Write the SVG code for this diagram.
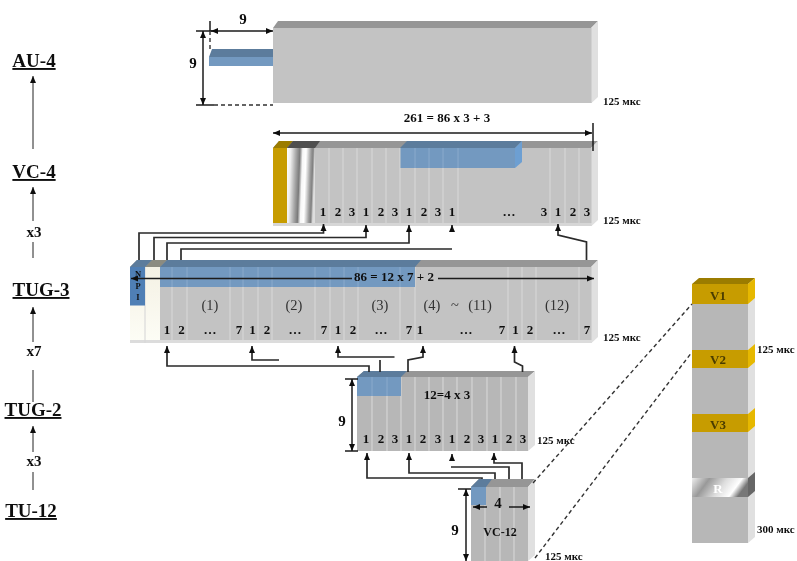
<svg xmlns="http://www.w3.org/2000/svg" width="797" height="561" viewBox="0 0 797 561">
<style>
text{font-family:"Liberation Serif","Times New Roman",serif;font-weight:bold;fill:#111;text-anchor:middle}
.lab{font-size:19px;text-decoration:underline}
.x{font-size:15px}
.n{font-size:13px}
.p text{font-size:14.5px;font-weight:normal;fill:#333}
.t{font-size:13px}
.nine{font-size:15px}
.m{font-size:11px;text-anchor:start}
.front{fill:#c3c3c3}.front2{fill:#b7b7b7}
.top{fill:#969696}.side{fill:#e0e0e0}.strip{fill:#d6d6d6}
.bf{fill:#7399c0}.bt{fill:#5b7c9c}.bs{fill:#6d9fd2}
.gf{fill:#c79c00}.gt{fill:#9b7c00}.gs{fill:#e6b800}
.sep{stroke:#d8d8d8;stroke-width:1.1;fill:none}
.sepb{stroke:#89a9cb;stroke-width:1.1;fill:none}
.c{fill:none;stroke:#2a2a2a;stroke-width:1.7}
.d{fill:none;stroke:#1a1a1a;stroke-width:1.5}
.dash{fill:none;stroke:#333;stroke-width:1.4;stroke-dasharray:4 3}
.thin{fill:none;stroke:#222;stroke-width:1}
</style>
<defs>
<filter id="soft" x="-5%" y="-5%" width="110%" height="110%"><feGaussianBlur stdDeviation="0.5"/></filter>
<marker id="a" markerUnits="userSpaceOnUse" markerWidth="8" markerHeight="7" refX="7" refY="3.500" orient="auto-start-reverse"><path d="M0 0.500L7 3.500L0 6.500Z" fill="#111"/></marker>
<linearGradient id="sh" x1="0" y1="0" x2="1" y2="0.1"><stop offset="0" stop-color="#fff"/><stop offset=".14" stop-color="#eee"/><stop offset=".32" stop-color="#aaa"/><stop offset=".46" stop-color="#7a7a7a"/><stop offset=".56" stop-color="#f6f6f6"/><stop offset=".68" stop-color="#fff"/><stop offset=".86" stop-color="#999"/><stop offset=".93" stop-color="#808080"/><stop offset="1" stop-color="#ddd"/></linearGradient>
<linearGradient id="rg" x1="0" y1="0" x2="1" y2="0.25"><stop offset="0" stop-color="#eee"/><stop offset=".3" stop-color="#999"/><stop offset=".6" stop-color="#ddd"/><stop offset=".85" stop-color="#fff"/><stop offset="1" stop-color="#777"/></linearGradient>
<linearGradient id="cr" x1="0" y1="0" x2="0" y2="1"><stop offset="0" stop-color="#f4f1e4"/><stop offset="1" stop-color="#fdfdf6"/></linearGradient>
</defs>
<rect width="797" height="561" fill="#fff"/>
<g filter="url(#soft)">

<g id="labels">
<text class="lab" x="34" y="67">AU-4</text>
<text class="lab" x="34" y="178">VC-4</text>
<text class="lab" x="41" y="296">TUG-3</text>
<text class="lab" x="33" y="416">TUG-2</text>
<text class="lab" x="31" y="517">TU-12</text>
<text class="x" x="34" y="237">x3</text>
<text class="x" x="34" y="356">x7</text>
<text class="x" x="34" y="466">x3</text>
<path class="thin" marker-end="url(#a)" d="M33 149V76"/>
<path class="thin" marker-end="url(#a)" d="M33 221V187"/>
<path class="thin" d="M33 242V258"/>
<path class="thin" marker-end="url(#a)" d="M33 342V307"/>
<path class="thin" d="M33 370V402"/>
<path class="thin" marker-end="url(#a)" d="M33 452V426"/>
<path class="thin" d="M33 472V490"/>
</g>

<g id="au4">
<path class="bt" d="M209 57L212 49H273V57Z"/>
<rect class="bf" x="209" y="57" width="64" height="9"/>
<path class="top" d="M273 28L278 21H598L591 28Z"/>
<rect class="front" x="273" y="28" width="319" height="75"/>
<path class="side" d="M591.500 28L598 21V97L591.500 103Z"/>
<text class="nine" x="243" y="24">9</text>
<text class="nine" x="193" y="68">9</text>
<path class="d" d="M196 31H214"/>
<path class="d" marker-start="url(#a)" marker-end="url(#a)" d="M211 31H273"/>
<path class="d" d="M210 21V31"/>
<path class="dash" d="M210 31V49"/>
<path class="d" marker-start="url(#a)" marker-end="url(#a)" d="M203 31V105"/>
<path class="d" d="M196 105H214"/>
<path class="dash" d="M214 105H273"/>
<text class="m" x="603" y="105">125 мкс</text>
</g>

<g id="vc4">
<text class="t" x="447" y="122">261 = 86 x 3 + 3</text>
<path class="d" marker-start="url(#a)" marker-end="url(#a)" d="M273 133H592"/>
<path class="top" d="M273 148L279 141H598L591 148Z"/>
<path class="gt" d="M273 148L279 141H293L287 148Z"/>
<path d="M287 148L293 141H320L315 148Z" fill="#4f4f4f"/>
<rect class="front" x="273" y="148" width="319" height="78"/>
<rect class="gf" x="273" y="148" width="14" height="75"/>
<rect x="287" y="148" width="28" height="78" fill="url(#sh)"/>
<rect class="strip" x="273" y="223" width="319" height="3"/>
<path class="side" d="M591.500 148L598 141V220L591.500 226Z"/>
<path class="sep" d="M329 148V223M343 148V223M357 148V223M372 148V223M386 148V223M400 148V223M415 148V223M429 148V223M443 148V223M458 148V223M550 148V223M565 148V223M579 148V223"/>
<path class="bt" d="M400 148L407 141H522L515 148Z"/>
<rect class="bf" x="400.500" y="148" width="114.500" height="20"/>
<path class="bs" d="M515 148L522 141V162L515 168Z"/>
<path class="sepb" d="M415 148V168M429 148V168M443 148V168M458 148V168"/>
<path class="d" d="M593 123V151"/>
<g class="n"><text x="323" y="216">1</text><text x="338" y="216">2</text><text x="352" y="216">3</text><text x="366" y="216">1</text><text x="381" y="216">2</text><text x="395" y="216">3</text><text x="409" y="216">1</text><text x="424" y="216">2</text><text x="438" y="216">3</text><text x="452" y="216">1</text><text x="509" y="216">…</text><text x="544" y="216">3</text><text x="558" y="216">1</text><text x="573" y="216">2</text><text x="587" y="216">3</text></g>
<text class="m" x="603" y="224">125 мкс</text>
</g>

<g id="tug3">
<path class="top" d="M130 267L137 260H598L591 267Z"/>
<path d="M145 267L152 260H167L160 267Z" fill="#8b8b80"/>
<path class="bt" d="M130 267L137 260H152L145 267Z"/>
<path class="bt" d="M160 267L167 260H421L415 267Z"/>
<rect class="front" x="160" y="267" width="432" height="76"/>
<rect x="130" y="267" width="30" height="76" fill="url(#cr)"/>
<rect x="130" y="340" width="462" height="3" fill="#dcdcdc"/>
<path class="side" d="M591.500 267L598 260V337L591.500 343Z"/>
<path class="sep" d="M172 267V340M187 267V340M230 267V340M243 267V340M258 267V340M272 267V340M315 267V340M330 267V340M344 267V340M358 267V340M400 267V340M415 267V340M508 267V340M522 267V340M536 267V340M579 267V340M145 267V343"/>
<rect x="130" y="267" width="15" height="38.500" fill="#4f7fb5"/>
<rect class="bf" x="160" y="267" width="255" height="20"/>
<path class="sepb" d="M172 267V287M187 267V287M230 267V287M243 267V287M258 267V287M272 267V287M315 267V287M330 267V287M344 267V287M358 267V287M400 267V287"/>
<text x="138" y="277" style="font-size:8.500px">N</text>
<text x="138" y="289" style="font-size:8.500px">P</text>
<text x="138" y="300" style="font-size:8.500px">I</text>
<g class="p"><text x="210" y="310">(1)</text><text x="294" y="310">(2)</text><text x="380" y="310">(3)</text><text x="432" y="310">(4)</text><text x="455" y="310">~</text><text x="480" y="310">(11)</text><text x="557" y="310">(12)</text></g>
<g class="n"><text x="167" y="334">1</text><text x="181.500" y="334">2</text><text x="210" y="334">…</text><text x="239" y="334">7</text><text x="252.500" y="334">1</text><text x="267" y="334">2</text><text x="295" y="334">…</text><text x="324" y="334">7</text><text x="338" y="334">1</text><text x="353" y="334">2</text><text x="381" y="334">…</text><text x="409" y="334">7</text><text x="420" y="334">1</text><text x="466" y="334">…</text><text x="502" y="334">7</text><text x="515.500" y="334">1</text><text x="530" y="334">2</text><text x="559" y="334">…</text><text x="587" y="334">7</text></g>
<text class="t" x="394" y="281">86 = 12 x 7 + 2</text>
<path class="d" marker-end="url(#a)" d="M352 278.500H131"/>
<path class="d" marker-end="url(#a)" d="M438 278.500H594"/>
<text class="m" x="603" y="341">125 мкс</text>
</g>

<g id="tug2">
<path class="top" d="M357 377L364 371H535L528 377Z"/>
<path class="bt" d="M357 377L364 371H407L401 377Z"/>
<rect class="front2" x="357" y="377" width="171" height="74"/>
<path class="side" d="M528 377L535 371V445L528 451Z"/>
<path class="sep" d="M372 377V451M387 377V451M401 377V451M415 377V451M429 377V451M443 377V451M457 377V451M472 377V451M487 377V451M501 377V451M516 377V451"/>
<rect class="bf" x="357" y="377" width="44" height="19"/>
<path class="sepb" d="M372 377V396M387 377V396"/>
<text class="t" x="447" y="399">12=4 x 3</text>
<g class="n"><text x="366" y="443">1</text><text x="381" y="443">2</text><text x="395" y="443">3</text><text x="409" y="443">1</text><text x="423" y="443">2</text><text x="438" y="443">3</text><text x="452" y="443">1</text><text x="467" y="443">2</text><text x="481" y="443">3</text><text x="495" y="443">1</text><text x="509" y="443">2</text><text x="523" y="443">3</text></g>
<path class="d" d="M345 379H358M345 451H358"/>
<path class="d" marker-start="url(#a)" marker-end="url(#a)" d="M352 379V451"/>
<text class="nine" x="342" y="426">9</text>
<text class="m" x="537" y="444">125 мкс</text>
</g>

<g id="vc12">
<path class="top" d="M471 487L479 479H535L528 487Z"/>
<path class="bt" d="M471 487L479 479H492L486 487Z"/>
<rect class="front2" x="471" y="487" width="57" height="74"/>
<path class="side" d="M528 487L535 479V555L528 561Z"/>
<path class="sep" d="M485 487V561M500 487V561M514 487V561"/>
<rect class="bf" x="471" y="487" width="15" height="18"/>
<text class="nine" x="498" y="508">4</text>
<path class="d" marker-end="url(#a)" d="M487 507H473"/>
<path class="d" marker-end="url(#a)" d="M509 507H530"/>
<text class="t" x="500" y="536" style="font-size:12px">VC-12</text>
<path class="d" d="M458 489H471"/>
<path class="d" marker-start="url(#a)" marker-end="url(#a)" d="M466 489V561"/>
<text class="nine" x="455" y="535">9</text>
<text class="m" x="545" y="560">125 мкс</text>
</g>

<g id="v-column">
<path class="side" d="M748 284L755 278V537L748 543Z"/>
<rect class="front2" x="692" y="284" width="56" height="259"/>
<path class="gt" d="M692 284L699 278H755L748 284Z"/>
<rect class="gf" x="692" y="284" width="56" height="20"/>
<path class="gs" d="M748 284L755 278V298L748 304Z"/>
<rect class="gf" x="692" y="350" width="56" height="18"/>
<path class="gs" d="M748 350L755 344V362L748 368Z"/>
<rect class="gf" x="692" y="414" width="56" height="18"/>
<path class="gs" d="M748 414L755 408V426L748 432Z"/>
<rect x="692" y="478" width="56" height="19" fill="url(#rg)"/>
<path d="M748 478L755 472V491L748 497Z" fill="#666"/>
<text class="t" x="718" y="300" style="fill:#4a3c00">V1</text>
<text class="t" x="718" y="364" style="fill:#4a3c00">V2</text>
<text class="t" x="718" y="429" style="fill:#4a3c00">V3</text>
<text class="t" x="718" y="493" style="fill:#fff">R</text>
<text class="m" x="757" y="353">125 мкс</text>
<text class="m" x="757" y="533">300 мкс</text>
</g>

<g id="connectors">
<path class="c" marker-end="url(#a)" d="M139 260V233H323.500V224"/>
<path class="c" marker-end="url(#a)" d="M154 260V237.500H366V225"/>
<path class="c" marker-end="url(#a)" d="M167 260V243H409V225"/>
<path class="c" d="M181 260V249H452"/>
<path class="c" marker-end="url(#a)" d="M452 230V225"/>
<path class="c" marker-end="url(#a)" d="M586.500 260V242L558 235V224"/>
<path class="c" marker-end="url(#a)" d="M369 372V366H167V346"/>
<path class="c" marker-end="url(#a)" d="M279 360H252V346"/>
<path class="c" marker-end="url(#a)" d="M394.500 357H338V346"/>
<path class="c" d="M380 360V372"/>
<path class="c" marker-end="url(#a)" d="M408 372V360L423 357V346"/>
<path class="c" marker-end="url(#a)" d="M522.500 372V366L514.500 362V346"/>
<path class="c" marker-end="url(#a)" d="M482 479V478H367V453"/>
<path class="c" marker-end="url(#a)" d="M495 479V473H409V453"/>
<path class="c" marker-end="url(#a)" d="M452 459V454"/>
<path class="c" d="M451 467H509V479"/>
<path class="c" marker-end="url(#a)" d="M522 479V463H494V453"/>
<path class="dash" stroke-dasharray="3 4" d="M533 483L692 304"/>
<path class="dash" stroke-dasharray="3 4" d="M535 558L692 352"/>
</g>
</g>
</svg>
